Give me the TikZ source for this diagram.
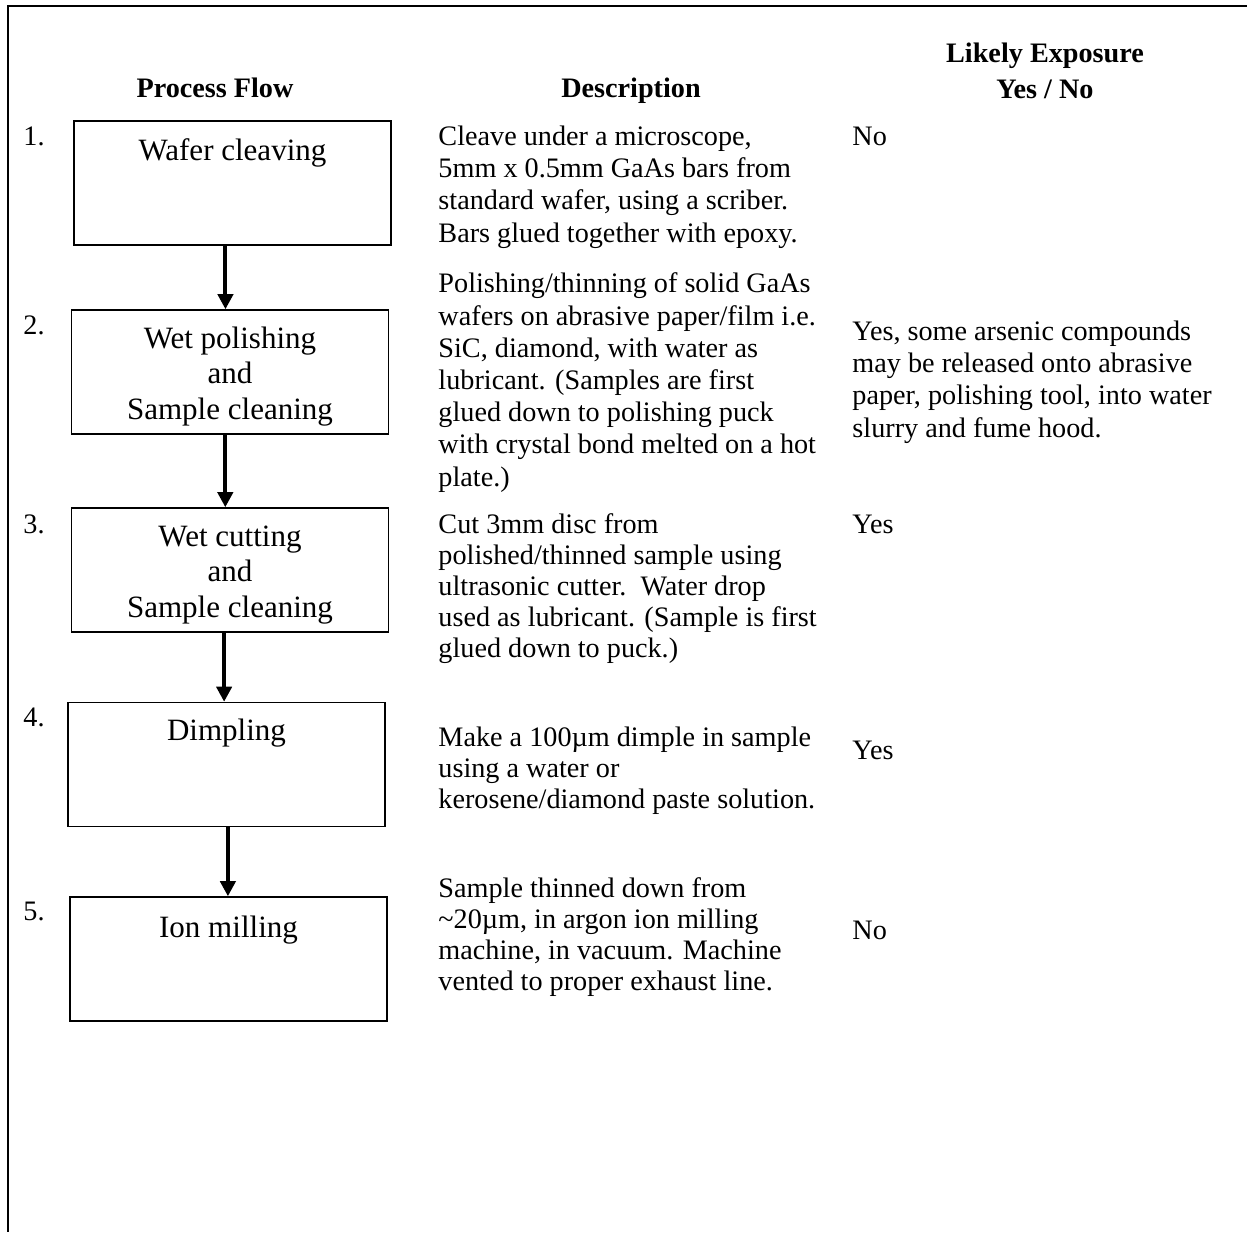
\documentclass[tikz,border=0pt]{standalone}
\usepackage{fontspec}
\setmainfont{Liberation Serif}
\usepackage{tikz}
\usetikzlibrary{arrows.meta}

\begin{document}
\begin{tikzpicture}
    [x=0.4255pt, y=-0.4255pt,
 stepbox/.style ={rectangle, draw=black, line width=0.6pt, fill=white, minimum width=134.9pt, minimum height=52.8pt, inner sep=0pt},
 boxtxt/.style ={anchor=base, align=center, inner sep=0pt, font=\fontsize{13.2}{15.1}\selectfont},
 desc/.style ={anchor=base west, align=left, inner sep=0pt, font=\fontsize{12}{13.7}\selectfont},
 desctight/.style ={desc, font=\fontsize{12}{13.1}\selectfont},
 head/.style ={anchor=base, align=center, inner sep=0pt, font=\bfseries\fontsize{12}{14.9}\selectfont},
 num/.style ={anchor=base west, inner sep=0pt, font=\fontsize{12}{13.6}\selectfont},
 flow/.style ={draw, line width=1.7pt, -{Triangle[width=6.4pt,length=6.4pt]}}]
        \useasboundingbox (0,0) rectangle (1247,1232);
        \draw[line width=0.85pt] (1247,6) -- (8,6) -- (8,1232);

        \node[head] (hflow) at (215,97) {Process Flow};
        \node[head] (hdesc) at (631,97) {Description};
        \node[head] (hexp) at (1045,98) {Likely Exposure\\Yes / No};

        \node[stepbox] (b1) at (232.5,183) {};
        \node[stepbox] (b2) at (230,372) {};
        \node[stepbox] (b3) at (230,570) {};
        \node[stepbox] (b4) at (226.5,764.5) {};
        \node[stepbox] (b5) at (228.5,959) {};

        \node[boxtxt] (t1) at (232.5,160) {Wafer cleaving};
        \node[boxtxt] (t2) at (230,419) {Wet polishing\\and\\Sample cleaning};
        \node[boxtxt] (t3) at (230,617) {Wet cutting\\and\\Sample cleaning};
        \node[boxtxt] (t4) at (226.5,740) {Dimpling};
        \node[boxtxt] (t5) at (228.5,937) {Ion milling};

        \node[num] (n1) at (23,145) {1.};
        \node[num] (n2) at (23,334) {2.};
        \node[num] (n3) at (23,533) {3.};
        \node[num] (n4) at (23,726) {4.};
        \node[num] (n5) at (23,920) {5.};

        \draw[flow] ([xshift=-3pt]b1.south) -- ([xshift=-3pt]b1.south |- b2.north);
        \draw[flow] ([xshift=-2pt]b2.south) -- ([xshift=-2pt]b2.south |- b3.north);
        \draw[flow] ([xshift=-2.5pt]b3.south) -- ([xshift=-2.5pt]b3.south |- b4.north);
        \draw[flow] ([xshift=0.6pt]b4.south) -- ([xshift=0.6pt]b4.south |- b5.north);

        \node[desc] (d1) at (438,242) {Cleave under a microscope,\\5mm x 0.5mm GaAs bars from\\standard wafer, using a scriber.\\Bars glued together with epoxy.};
        \node[desc] (d2) at (438,486) {Polishing/thinning of solid GaAs\\wafers on abrasive paper/film i.e.\\SiC, diamond, with water as\\lubricant. (Samples are first\\glued down to polishing puck\\with crystal bond melted on a hot\\plate.)};
        \node[desctight] (d3) at (438,657) {Cut 3mm disc from\\polished/thinned sample using\\ultrasonic cutter.\ \ Water drop\\used as lubricant. (Sample is first\\glued down to puck.)};
        \node[desctight] (d4) at (438,808) {Make a 100µm dimple in sample\\using a water or\\kerosene/diamond paste solution.};
        \node[desctight] (d5) at (438,990) {Sample thinned down from\\\textasciitilde20µm, in argon ion milling\\machine, in vacuum. Machine\\vented to proper exhaust line.};

        \node[desc] (e1) at (852,145) {No};
        \node[desc] (e2) at (852,437) {Yes, some arsenic compounds\\may be released onto abrasive\\paper, polishing tool, into water\\slurry and fume hood.};
        \node[desc] (e3) at (852,533) {Yes};
        \node[desc] (e4) at (852,759) {Yes};
        \node[desc] (e5) at (852,939) {No};
    \end{tikzpicture}
\end{document}
